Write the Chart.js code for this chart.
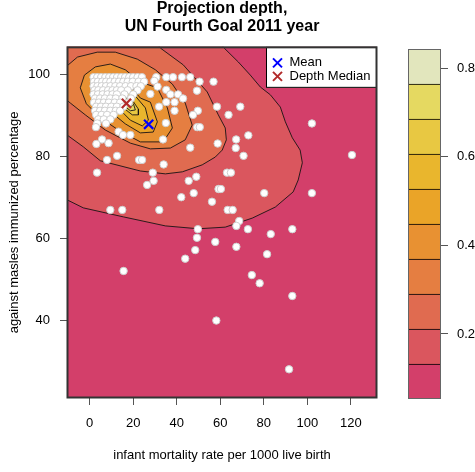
<!DOCTYPE html>
<html>
<head>
<meta charset="utf-8">
<script src="https://cdn.jsdelivr.net/npm/chart.js@4.4.0/dist/chart.umd.min.js"></script>
<style>
  html, body { margin: 0; padding: 0; background: #fff; }
  #wrap { position: relative; width: 475px; height: 472px; }
  #main { position: absolute; left: 0; top: 0; }
  #key { position: absolute; left: 380px; top: 0; }
</style>
</head>
<body>
<div id="wrap">
  <canvas id="main" width="475" height="472"></canvas>
  <canvas id="key" width="95" height="472"></canvas>
</div>
<script>
// infant mortality (x) and measles immunization (y), one entry per country
const mortality = [
  1.8, 3.5, 5.3, 7.2, 9.0, 10.8, 12.6, 14.5, 16.3, 18.2, 20.0, 22.0, 24.0, 30.6, 35.2, 38.3, 42.4, 46.2,
  2.0, 3.8, 5.8, 7.6, 9.5, 11.5, 13.5, 15.5, 17.5, 19.8, 22.5, 25.0, 29.7, 50.5, 56.9,
  1.8, 3.6, 5.5, 7.5, 9.6, 11.8, 14.0, 16.5, 19.0, 21.5, 23.5, 31.2,
  2.2, 4.0, 6.2, 8.5, 10.5, 12.5, 14.5, 17.5, 22.0, 35.2, 49.3,
  1.8, 3.8, 6.0, 8.2, 10.5, 12.5, 16.0, 20.0, 27.9, 37.1, 40.6,
  2.5, 4.8, 7.0, 9.5, 12.0, 15.0, 19.0, 42.9,
  2.0, 4.2, 6.5, 8.8, 11.5, 14.0, 18.0, 35.2, 39.0,
  3.0, 5.2, 7.5, 10.0, 12.5, 15.5, 31.9, 58.5, 69.2,
  2.5, 4.8, 7.0, 9.5, 12.0, 14.0, 39.0, 49.7,
  3.0, 5.5, 8.0, 11.0, 47.5, 63.8,
  4.0, 6.5, 9.5, 3.5, 7.5, 35.0, 102.1,
  2.9, 49.4, 50.6, 13.3, 15.3, 18.7, 33.7, 67.3, 72.9, 5.7,
  3.1, 8.7, 58.8, 46.2, 67.1, 70.7, 120.5, 12.6,
  8.0, 22.7, 24.1, 34.0, 3.4, 29.0, 63.1, 64.9, 49.0, 29.4, 45.5, 26.4, 59.2, 60.3, 80.2, 102.1, 47.8, 42.1,
  56.2, 9.5, 15.0, 32.0, 63.4, 65.7, 68.7, 67.4, 49.7, 72.7, 93.1, 83.2, 49.3, 57.7, 67.4, 48.5, 81.5, 43.9,
  15.6, 74.5, 78.1, 93.1, 58.2, 91.6
];
const immunized = [
  99.4, 99.4, 99.4, 99.4, 99.4, 99.4, 99.4, 99.4, 99.4, 99.4, 99.4, 99.4, 99.4, 99.4, 99.4, 99.4, 99.4, 99.4,
  98.3, 98.3, 98.3, 98.3, 98.3, 98.3, 98.3, 98.3, 98.3, 98.3, 98.3, 98.3, 98.5, 98.3, 98.3,
  97.2, 97.2, 97.2, 97.2, 97.2, 97.2, 97.2, 97.2, 97.2, 97.2, 97.2, 97.1,
  96.2, 96.2, 96.2, 96.2, 96.2, 96.2, 96.2, 96.2, 96.2, 96.3, 96.1,
  95.2, 95.2, 95.2, 95.2, 95.2, 95.2, 95.2, 95.2, 95.3, 95.2, 95.2,
  94.2, 94.2, 94.2, 94.2, 94.2, 94.2, 94.2, 94.2,
  93.2, 93.2, 93.2, 93.2, 93.2, 93.2, 93.2, 93.3, 93.3,
  92.2, 92.2, 92.2, 92.2, 92.2, 92.2, 92.2, 92.2, 92.2,
  91.2, 91.2, 91.2, 91.2, 91.2, 91.2, 91.2, 91.2,
  90.2, 90.2, 90.2, 90.2, 90.2, 90.2,
  89.1, 89.1, 89.1, 88.1, 88.1, 88.2, 88.1,
  87.2, 87.2, 87.2, 86.1, 85.3, 85.3, 84.2, 84.2, 85.2, 84.2,
  83.1, 83.3, 83.2, 82.2, 82.1, 80.2, 80.4, 80.2,
  79.2, 79.2, 79.2, 78.1, 76.1, 76.1, 76.1, 76.1, 75.1, 74.1, 74.1, 73.1, 72.1, 72.1, 71.1, 71.1, 71.1, 70.1,
  69.0, 67.0, 67.0, 67.0, 67.0, 67.0, 64.3, 63.1, 62.3, 62.3, 62.3, 61.1, 60.2, 59.2, 58.0, 57.2, 56.2, 55.1,
  52.1, 51.1, 49.1, 46.0, 40.0, 28.1
];
const meanXY = [27.1, 87.9];
const medianXY = [16.9, 93.0];

// depth levels of the filled contour (11 breaks, 10 bands)
const depthLevels = [0.0532, 0.1322, 0.2113, 0.2903, 0.3694, 0.4484, 0.5274, 0.6065, 0.6855, 0.7646, 0.8436];

// contour outlines, [x, y] in data units
const contour1 = [[-20,72],[-2.9,67.5],[15.5,65.3],[34.8,63.1],[49.9,62.4],[62.3,62.8],[74.7,65.0],[85.3,67.7],[93.5,71.4],[95.8,74.3],[97.7,78.5],[96.7,81.6],[93.1,84.6],[89.9,88.5],[87.6,92.1],[83.0,95.1],[78.4,97.0],[73.8,99.9],[68.3,103.1],[61.8,106.5],[55,112],[10,116],[-20,112]];
const contour2 = [[-20,89],[-2.9,82.4],[4.9,79.0],[23.3,76.5],[34.8,75.8],[42.6,76.3],[51.7,78.0],[57.7,79.9],[60.9,81.6],[62.8,84.1],[62.3,87.0],[59.1,90.2],[54.0,95.8],[43.0,102.4],[32.5,106.5],[25,112],[0,114],[-20,110]];
const contour3 = [[-12.5,101.2],[-5.6,104.3],[3.5,105.5],[11.8,105.5],[21.9,103.8],[30.2,101.2],[38.0,97.7],[43.9,93.1],[47.1,87.7],[43.9,84.1],[37.1,82.1],[27.9,81.9],[18.7,83.3],[7.2,86.5],[-2.0,90.2],[-8.9,93.1],[-13.4,95.1]];
const contour4 = [[-4.3,96.8],[-2.4,99.9],[2.6,101.9],[9.5,102.6],[16.4,101.2],[23.3,98.2],[31.1,96.8],[35.7,91.9],[38.0,87.0],[33.8,83.6],[23.3,83.6],[13.2,86.5],[4.9,89.5],[-1.5,92.9]];
const contour5 = [[2.6,96.3],[4.9,99.2],[10.4,100.2],[16.4,98.7],[23.3,94.3],[27.9,93.3],[31.1,88.5],[29.2,86.0],[23.3,85.8],[16.4,88.0],[8.6,91.4]];
const contour6 = [[7.2,95.8],[10.4,97.7],[15.0,97.2],[21.0,94.8],[25.6,91.9],[27.0,88.9],[24.2,87.5],[18.7,88.9],[11.8,92.6]];
const contour7 = [[12.3,94.8],[15.5,95.3],[19.6,93.8],[22.4,91.6],[22.4,90.2],[19.6,90.2],[15.5,91.9],[12.8,93.6]];
const contour8 = [[14.5,94.1],[17.3,94.3],[20.1,92.9],[21.0,91.4],[18.7,91.2],[15.5,92.6]];
const contour9 = [[16.4,93.3],[18.2,93.3],[19.6,92.4],[18.2,92.2],[16.9,92.6]];

const xTicks = [0, 20, 40, 60, 80, 100, 120];
const yTicks = [40, 60, 80, 100];
const keyTicks = [0.2, 0.4, 0.6, 0.8];

// heat_hcl palette
function hcl2hex(L, C, H) {
  const h = H * Math.PI / 180;
  const U = C * Math.cos(h), V = C * Math.sin(h);
  const Xn = 95.047, Yn = 100, Zn = 108.883;
  const Y = L > 8 ? Yn * Math.pow((L + 16) / 116, 3) : Yn * L / 903.3;
  const d = Xn + 15 * Yn + 3 * Zn;
  const up = U / (13 * L) + 4 * Xn / d, vp = V / (13 * L) + 9 * Yn / d;
  const X = 9 * Y * up / (4 * vp);
  const Z = -X / 3 - 5 * Y + 3 * Y / vp;
  const x = X / 100, y = Y / 100, z = Z / 100;
  const lin = [3.240479 * x - 1.537150 * y - 0.498535 * z,
              -0.969256 * x + 1.875992 * y + 0.041556 * z,
               0.055648 * x - 0.204043 * y + 1.057311 * z];
  return '#' + lin.map(v => {
    v = v <= 0.0031308 ? 12.92 * v : 1.055 * Math.pow(v, 1 / 2.4) - 0.055;
    v = Math.min(1, Math.max(0, v));
    return Math.round(v * 255).toString(16).padStart(2, '0');
  }).join('');
}
const bandColors = [];
for (let i = 0; i < 10; i++) {
  const r = 1 - i / 9;
  bandColors.push(hcl2hex(90 - 40 * r, 30 + 70 * Math.pow(r, 0.2), 90 - 90 * r));
}

Chart.defaults.font.family = '"Liberation Sans", Arial, sans-serif';
Chart.defaults.font.size = 13;
Chart.defaults.color = '#000';

const contours = [contour1, contour2, contour3, contour4, contour5, contour6, contour7, contour8, contour9];
const contourSets = contours.map((poly, i) => ({
  data: poly.concat([poly[0]]).map(p => ({ x: p[0], y: p[1] })),
  showLine: true,
  fill: 'shape',
  backgroundColor: bandColors[i + 1],
  borderColor: 'rgba(25,20,20,0.9)',
  borderWidth: 1,
  pointRadius: 0,
  tension: 0,
  order: 50 - i
}));

const plotBg = {
  id: 'plotBg',
  beforeDatasetsDraw(chart) {
    const a = chart.chartArea, ctx = chart.ctx;
    ctx.save();
    ctx.fillStyle = bandColors[0];
    ctx.fillRect(a.left, a.top, a.right - a.left, a.bottom - a.top);
    ctx.restore();
  }
};

const insetLegend = {
  id: 'insetLegend',
  afterDatasetsDraw(chart) {
    const { ctx, chartArea: a } = chart;
    const w = 111, h = 41;
    const x0 = a.right - w, y0 = a.top;
    ctx.save();
    ctx.fillStyle = '#fff';
    ctx.fillRect(x0, y0, w, h);
    ctx.strokeStyle = '#000';
    ctx.lineWidth = 1;
    ctx.strokeRect(x0 + 0.5, y0 + 0.5, w - 1, h - 1);
    chart.data.datasets.filter(d => d.legendRow !== undefined).forEach(d => {
      const cy = y0 + 16 + d.legendRow * 13.5, cx = x0 + 11.5;
      ctx.strokeStyle = d.borderColor;
      ctx.lineWidth = 2;
      ctx.beginPath();
      ctx.moveTo(cx - 4.5, cy - 4.5); ctx.lineTo(cx + 4.5, cy + 4.5);
      ctx.moveTo(cx + 4.5, cy - 4.5); ctx.lineTo(cx - 4.5, cy + 4.5);
      ctx.stroke();
      ctx.fillStyle = '#000';
      ctx.font = '13px "Liberation Sans", Arial, sans-serif';
      ctx.textBaseline = 'middle';
      ctx.fillText(d.label, x0 + 23.5, cy);
    });
    // plot box
    ctx.strokeStyle = '#333';
    ctx.strokeRect(a.left + 0.5, a.top + 0.5, a.right - a.left - 1, a.bottom - a.top - 1);
    ctx.restore();
  }
};

new Chart(document.getElementById('main'), {
  type: 'scatter',
  data: {
    datasets: contourSets.concat([
      {
        label: 'countries',
        data: mortality.map((v, i) => ({ x: v, y: immunized[i] })),
        pointRadius: 3.7,
        backgroundColor: '#fff',
        borderColor: '#cfcfcf',
        borderWidth: 1,
        order: 2
      },
      {
        label: 'Mean', legendRow: 0,
        data: [{ x: meanXY[0], y: meanXY[1] }],
        pointStyle: 'crossRot', pointRadius: 6.5,
        borderColor: '#0000ff', borderWidth: 2.2, order: 1
      },
      {
        label: 'Depth Median', legendRow: 1,
        data: [{ x: medianXY[0], y: medianXY[1] }],
        pointStyle: 'crossRot', pointRadius: 6.5,
        borderColor: '#b22a2a', borderWidth: 2.2, order: 0
      }
    ])
  },
  options: {
    responsive: false,
    animation: false,
    events: [],
    layout: { padding: { left: 0, right: 98, top: 0, bottom: 0 } },
    plugins: {
      legend: { display: false },
      tooltip: { enabled: false },
      title: {
        display: true,
        fullSize: false,
        text: ['Projection depth,', 'UN Fourth Goal 2011 year'],
        font: { size: 16, weight: 'bold', lineHeight: 1.12 },
        color: '#000',
        padding: { top: 0, bottom: 11 }
      }
    },
    scales: {
      x: {
        type: 'linear',
        min: -10.4, max: 132.0,
        afterBuildTicks: s => { s.ticks = xTicks.map(v => ({ value: v })); },
        afterFit: s => { s.height = 74; },
        ticks: { padding: 11, maxRotation: 0, autoSkip: false, color: '#000', callback: v => v },
        grid: { drawOnChartArea: false, drawTicks: true, tickLength: 7, color: '#555' },
        border: { display: false },
        title: { display: true, text: 'infant mortality rate per 1000 live birth', color: '#000', padding: { top: 0, bottom: 9 } }
      },
      y: {
        type: 'linear',
        min: 21.1, max: 106.8,
        afterBuildTicks: s => { s.ticks = yTicks.map(v => ({ value: v })); },
        afterFit: s => { s.width = 67; },
        ticks: { padding: 10, color: '#000', callback: v => v },
        grid: { drawOnChartArea: false, drawTicks: true, tickLength: 7, color: '#555' },
        border: { display: false },
        title: { display: true, text: 'against masles immunized percentage', color: '#000', padding: { top: 7, bottom: 0 } }
      }
    }
  },
  plugins: [plotBg, insetLegend]
});

const keyFrame = {
  id: 'keyFrame',
  afterDatasetsDraw(chart) {
    const a = chart.chartArea, ctx = chart.ctx;
    ctx.save();
    ctx.strokeStyle = '#666';
    ctx.lineWidth = 1;
    ctx.strokeRect(a.left + 0.5, a.top + 0.5, a.right - a.left - 1, a.bottom - a.top - 1);
    ctx.restore();
  }
};

new Chart(document.getElementById('key'), {
  type: 'bar',
  data: {
    labels: ['depth'],
    datasets: bandColors.map((c, i) => ({
      data: [[depthLevels[i], depthLevels[i + 1]]],
      backgroundColor: c,
      borderColor: '#000',
      borderWidth: { top: 1, right: 0, bottom: 0, left: 0 },
      borderSkipped: false,
      barPercentage: 1,
      categoryPercentage: 1,
      grouped: false
    }))
  },
  options: {
    responsive: false,
    animation: false,
    events: [],
    layout: { padding: { left: 28, right: 0, top: 49, bottom: 73 } },
    plugins: { legend: { display: false }, tooltip: { enabled: false } },
    scales: {
      x: { display: false },
      y: {
        position: 'right',
        min: depthLevels[0], max: depthLevels[10],
        afterBuildTicks: s => { s.ticks = keyTicks.map(v => ({ value: v })); },
        afterFit: s => { s.width = 34; },
        ticks: { padding: 9, color: '#000', callback: v => v.toFixed(1) },
        grid: { drawOnChartArea: false, drawTicks: true, tickLength: 7, color: '#555' },
        border: { display: false }
      }
    }
  },
  plugins: [keyFrame]
});
</script>
</body>
</html>
